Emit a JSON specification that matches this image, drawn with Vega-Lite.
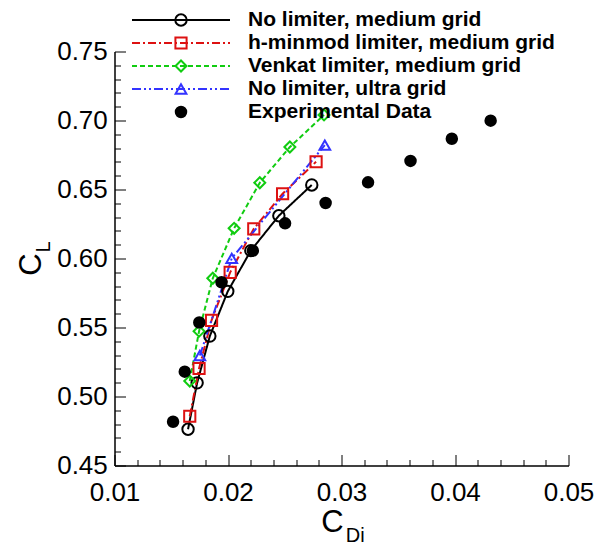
{
  "$schema": "https://vega.github.io/schema/vega-lite/v6.json",
  "width": 454,
  "height": 414,
  "autosize": {"type": "none"},
  "padding": {"left": 114.5, "top": 51.5, "right": 34.5, "bottom": 80.5},
  "background": "white",
  "config": {"view": {"stroke": null}, "font": "Liberation Sans"},
  "resolve": {"axis": {"x": "independent", "y": "independent"}},
  "data": {"values": [
    {"series": "No limiter, medium grid", "cdi": 0.01648, "cl": 0.4763},
    {"series": "No limiter, medium grid", "cdi": 0.01728, "cl": 0.5099},
    {"series": "No limiter, medium grid", "cdi": 0.01840, "cl": 0.5438},
    {"series": "No limiter, medium grid", "cdi": 0.01998, "cl": 0.5762},
    {"series": "No limiter, medium grid", "cdi": 0.02201, "cl": 0.6057},
    {"series": "No limiter, medium grid", "cdi": 0.02448, "cl": 0.6310},
    {"series": "No limiter, medium grid", "cdi": 0.02738, "cl": 0.6533},
    {"series": "h-minmod limiter, medium grid", "cdi": 0.01663, "cl": 0.4857},
    {"series": "h-minmod limiter, medium grid", "cdi": 0.01745, "cl": 0.5203},
    {"series": "h-minmod limiter, medium grid", "cdi": 0.01855, "cl": 0.5552},
    {"series": "h-minmod limiter, medium grid", "cdi": 0.02019, "cl": 0.5900},
    {"series": "h-minmod limiter, medium grid", "cdi": 0.02227, "cl": 0.6215},
    {"series": "h-minmod limiter, medium grid", "cdi": 0.02481, "cl": 0.6469},
    {"series": "h-minmod limiter, medium grid", "cdi": 0.02776, "cl": 0.6701},
    {"series": "Venkat limiter, medium grid", "cdi": 0.01663, "cl": 0.5112},
    {"series": "Venkat limiter, medium grid", "cdi": 0.01745, "cl": 0.5473},
    {"series": "Venkat limiter, medium grid", "cdi": 0.01866, "cl": 0.5857},
    {"series": "Venkat limiter, medium grid", "cdi": 0.02054, "cl": 0.6219},
    {"series": "Venkat limiter, medium grid", "cdi": 0.02280, "cl": 0.6549},
    {"series": "Venkat limiter, medium grid", "cdi": 0.02545, "cl": 0.6808},
    {"series": "Venkat limiter, medium grid", "cdi": 0.02846, "cl": 0.7040},
    {"series": "No limiter, ultra grid", "cdi": 0.01752, "cl": 0.5297},
    {"series": "No limiter, ultra grid", "cdi": 0.02033, "cl": 0.6001},
    {"series": "No limiter, ultra grid", "cdi": 0.02853, "cl": 0.6822},
    {"series": "Experimental Data", "cdi": 0.01516, "cl": 0.4817},
    {"series": "Experimental Data", "cdi": 0.01619, "cl": 0.5180},
    {"series": "Experimental Data", "cdi": 0.01747, "cl": 0.5536},
    {"series": "Experimental Data", "cdi": 0.01943, "cl": 0.5828},
    {"series": "Experimental Data", "cdi": 0.02219, "cl": 0.6057},
    {"series": "Experimental Data", "cdi": 0.02503, "cl": 0.6255},
    {"series": "Experimental Data", "cdi": 0.02860, "cl": 0.6402},
    {"series": "Experimental Data", "cdi": 0.03234, "cl": 0.6552},
    {"series": "Experimental Data", "cdi": 0.03608, "cl": 0.6707},
    {"series": "Experimental Data", "cdi": 0.03972, "cl": 0.6868},
    {"series": "Experimental Data", "cdi": 0.04314, "cl": 0.6999}
  ]},
  "layer": [
    {
      "transform": [{"filter": "datum.series != 'Experimental Data'"}],
      "mark": {"type": "line", "strokeWidth": 2},
      "encoding": {
        "x": {
          "field": "cdi", "type": "quantitative",
          "scale": {"domain": [0.01, 0.05], "nice": false, "zero": false},
          "axis": {
            "orient": "bottom",
            "values": [0.01, 0.02, 0.03, 0.04, 0.05],
            "format": ".2f",
            "ticks": false,
            "domainColor": "black", "domainWidth": 1.5,
            "grid": false,
            "labelFont": "Liberation Sans", "labelFontSize": 26, "labelColor": "black",
            "labelPadding": 35, "labelBaseline": "alphabetic",
            "labelFlush": false, "labelOverlap": false, "labelBound": false,
            "title": "C", "titleFont": "Liberation Sans", "titleFontSize": 31, "titleFontWeight": "normal", "titleColor": "black",
            "titleX": 217.5, "titleY": 66.2, "titleBaseline": "alphabetic", "titleAlign": "center"
          }
        },
        "y": {
          "field": "cl", "type": "quantitative",
          "scale": {"domain": [0.45, 0.75], "nice": false, "zero": false},
          "axis": {
            "orient": "left",
            "values": [0.45, 0.5, 0.55, 0.6, 0.65, 0.7, 0.75],
            "format": ".2f",
            "ticks": false,
            "domainColor": "black", "domainWidth": 1.5,
            "grid": false,
            "labelFont": "Liberation Sans", "labelFontSize": 26, "labelColor": "black",
            "labelPadding": 7.2, "labelBaseline": "middle",
            "labelFlush": false, "labelOverlap": false, "labelBound": false,
            "title": "C", "titleFont": "Liberation Sans", "titleFontSize": 31, "titleFontWeight": "normal", "titleColor": "black",
            "titleAngle": 270, "titleX": -73.8, "titleY": 212.5, "titleBaseline": "alphabetic", "titleAlign": "center"
          }
        },
        "color": {"field": "series", "type": "nominal",
          "scale": {"domain": ["No limiter, medium grid", "h-minmod limiter, medium grid", "Venkat limiter, medium grid", "No limiter, ultra grid", "Experimental Data"],
                    "range": ["#000000", "#dd1111", "#11cc11", "#3333ff", "#000000"]}},
        "strokeDash": {"field": "series", "type": "nominal",
          "scale": {"domain": ["No limiter, medium grid", "h-minmod limiter, medium grid", "Venkat limiter, medium grid", "No limiter, ultra grid"],
                    "range": [[1, 0], [8, 3, 2, 3], [5, 3], [9, 3, 2, 3, 2, 3]]},
          "legend": {
            "orient": "none", "legendX": 16.5, "legendY": -42, "title": null,
            "symbolType": "stroke", "symbolSize": 9604, "symbolStrokeWidth": 2,
            "symbolStrokeColor": {"expr": "datum.value == 'No limiter, medium grid' ? '#000000' : datum.value == 'h-minmod limiter, medium grid' ? '#dd1111' : datum.value == 'Venkat limiter, medium grid' ? '#11cc11' : '#3333ff'"},
            "labelExpr": "''", "labelOpacity": 0, "labelFontSize": 21, "clipHeight": 21, "rowPadding": 1, "padding": 0, "symbolOffset": 0
          }}
      }
    },
    {
      "mark": {"type": "point", "strokeWidth": 2, "opacity": 1},
      "encoding": {
        "x": {
          "field": "cdi", "type": "quantitative",
          "axis": {
            "orient": "bottom", "offset": -11,
            "values": [0.01, 0.02, 0.03, 0.04, 0.05],
            "ticks": true, "tickSize": 11, "tickColor": "black", "tickWidth": 1,
            "domain": false, "labels": false, "grid": false, "title": null
          }
        },
        "y": {
          "field": "cl", "type": "quantitative",
          "axis": {
            "orient": "left", "offset": -11,
            "values": [0.45, 0.5, 0.55, 0.6, 0.65, 0.7, 0.75],
            "ticks": true, "tickSize": 11, "tickColor": "black", "tickWidth": 1,
            "domain": false, "labels": false, "grid": false, "title": null
          }
        },
        "color": {"field": "series", "type": "nominal",
          "scale": {"domain": ["No limiter, medium grid", "h-minmod limiter, medium grid", "Venkat limiter, medium grid", "No limiter, ultra grid", "Experimental Data"],
                    "range": ["#000000", "#dd1111", "#11cc11", "#3333ff", "#000000"]},
          "legend": {"orient": "none", "legendX": 56, "legendY": -42, "title": null,
            "labelFont": "Liberation Sans", "labelFontWeight": "bold", "labelFontSize": 21, "labelColor": "black", "labelLimit": 500,
            "symbolStrokeWidth": 2, "labelOffset": 56.5, "rowPadding": 1, "padding": 0, "symbolOffset": 0}},
        "shape": {"field": "series", "type": "nominal",
          "scale": {"domain": ["No limiter, medium grid", "h-minmod limiter, medium grid", "Venkat limiter, medium grid", "No limiter, ultra grid", "Experimental Data"],
                    "range": ["circle", "square", "diamond", "triangle-up", "circle"]},
          "legend": {"orient": "none", "legendX": 56, "legendY": -42, "title": null,
            "labelFont": "Liberation Sans", "labelFontWeight": "bold", "labelFontSize": 21, "labelColor": "black", "labelLimit": 500,
            "symbolStrokeWidth": 2, "labelOffset": 56.5, "rowPadding": 1, "padding": 0, "symbolOffset": 0}},
        "fill": {"field": "series", "type": "nominal",
          "scale": {"domain": ["No limiter, medium grid", "h-minmod limiter, medium grid", "Venkat limiter, medium grid", "No limiter, ultra grid", "Experimental Data"],
                    "range": ["transparent", "transparent", "transparent", "transparent", "#000000"]},
          "legend": {"orient": "none", "legendX": 56, "legendY": -42, "title": null,
            "labelFont": "Liberation Sans", "labelFontWeight": "bold", "labelFontSize": 21, "labelColor": "black", "labelLimit": 500,
            "symbolStrokeWidth": 2, "labelOffset": 56.5, "rowPadding": 1, "padding": 0, "symbolOffset": 0}},
        "size": {"field": "series", "type": "nominal",
          "scale": {"domain": ["No limiter, medium grid", "h-minmod limiter, medium grid", "Venkat limiter, medium grid", "No limiter, ultra grid", "Experimental Data"],
                    "range": [130, 110, 190, 150, 140]},
          "legend": {"orient": "none", "legendX": 56, "legendY": -42, "title": null,
            "labelFont": "Liberation Sans", "labelFontWeight": "bold", "labelFontSize": 21, "labelColor": "black", "labelLimit": 500,
            "symbolStrokeWidth": 2, "labelOffset": 56.5, "rowPadding": 1, "padding": 0, "symbolOffset": 0}}
      }
    },
    {
      "data": {"values": [{"sub": "Di"}]},
      "mark": {"type": "text", "font": "Liberation Sans", "fontSize": 20, "fill": "black", "align": "center", "baseline": "alphabetic", "dy": 76.2},
      "encoding": {
        "x": {"datum": 0.0312, "type": "quantitative",
          "axis": {
            "orient": "bottom", "offset": -6,
            "values": [0.012,0.014,0.016,0.018,0.022,0.024,0.026,0.028,0.032,0.034,0.036,0.038,0.042,0.044,0.046,0.048],
            "ticks": true, "tickSize": 6, "tickColor": "black", "tickWidth": 1,
            "domain": false, "labels": false, "grid": false, "title": null
          }},
        "y": {"datum": 0.45, "type": "quantitative", "axis": null},
        "text": {"field": "sub"}
      }
    },
    {
      "data": {"values": [{"sub": "L"}]},
      "mark": {"type": "text", "font": "Liberation Sans", "fontSize": 20, "fill": "black", "align": "center", "baseline": "alphabetic", "angle": 270, "dy": -64.5},
      "encoding": {
        "x": {"datum": 0.01, "type": "quantitative", "axis": null},
        "y": {"datum": 0.6083, "type": "quantitative",
          "axis": {
            "orient": "left", "offset": -6,
            "values": [0.46,0.47,0.48,0.49,0.51,0.52,0.53,0.54,0.56,0.57,0.58,0.59,0.61,0.62,0.63,0.64,0.66,0.67,0.68,0.69,0.71,0.72,0.73,0.74],
            "ticks": true, "tickSize": 6, "tickColor": "black", "tickWidth": 1,
            "domain": false, "labels": false, "grid": false, "title": null
          }},
        "text": {"field": "sub"}
      }
    }
  ]
}
